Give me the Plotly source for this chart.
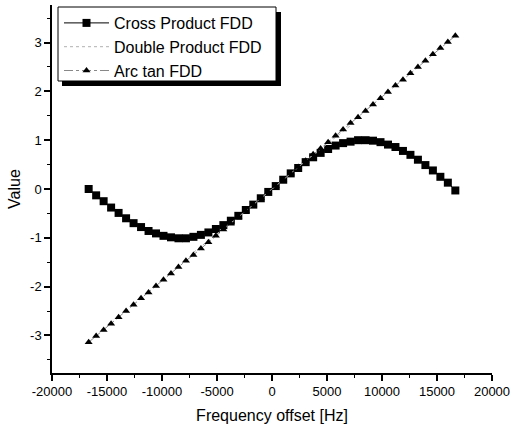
import plotly.graph_objects as go

freq = [-16667, -15986, -15306, -14626, -13946, -13265, -12585, -11905, -11224, -10544,
        -9864, -9184, -8503, -7823, -7143, -6463, -5782, -5102, -4422, -3741,
        -3061, -2381, -1701, -1020, -340, 340, 1020, 1701, 2381, 3061,
        3741, 4422, 5102, 5782, 6463, 7143, 7823, 8503, 9184, 9864,
        10544, 11224, 11905, 12585, 13265, 13946, 14626, 15306, 15986, 16667]

cross = [0.00, -0.13, -0.25, -0.38, -0.49, -0.60, -0.70, -0.78, -0.86, -0.91,
         -0.96, -0.99, -1.01, -1.01, -0.98, -0.94, -0.89, -0.82, -0.74, -0.65,
         -0.55, -0.43, -0.32, -0.19, -0.06, 0.06, 0.19, 0.32, 0.43, 0.55,
         0.65, 0.74, 0.82, 0.89, 0.94, 0.97, 1.00, 1.00, 0.99, 0.96,
         0.91, 0.86, 0.78, 0.70, 0.60, 0.49, 0.38, 0.25, 0.13, -0.03]

arctan = [-3.14, -3.01, -2.89, -2.76, -2.63, -2.50, -2.37, -2.24, -2.12, -1.99,
          -1.86, -1.73, -1.60, -1.47, -1.35, -1.22, -1.09, -0.96, -0.83, -0.71,
          -0.58, -0.45, -0.32, -0.19, -0.06, 0.06, 0.19, 0.32, 0.45, 0.58,
          0.71, 0.83, 0.96, 1.09, 1.22, 1.35, 1.47, 1.60, 1.73, 1.86,
          1.99, 2.12, 2.24, 2.37, 2.50, 2.63, 2.76, 2.89, 3.01, 3.14]

double_freq = [-7143, -6463, -5782, -5102, -4422, -3741, -3061, -2381, -1701, -1020,
               -340, 340, 1020, 1701, 2381, 3061, 3741, 4422, 5102, 5782, 6463, 7143]
double = [-1.30, -1.18, -1.06, -0.94, -0.82, -0.70, -0.57, -0.45, -0.32, -0.19,
          -0.06, 0.06, 0.19, 0.32, 0.45, 0.57, 0.70, 0.82, 0.94, 1.06, 1.18, 1.30]

x_ticks = [-20000, -15000, -10000, -5000, 0, 5000, 10000, 15000, 20000]
x_ticktext = ["-20000", "-15000", "-10000", "-5000", "0", "5000", "10000", "15000", "20000"]
y_ticks = [-3, -2, -1, 0, 1, 2, 3]
y_ticktext = ["-3", "-2", "-1", "0", "1", "2", "3"]

FONT = "Liberation Sans, Arial, sans-serif"

L, R, T, B = 52, 19, 5, 61
W, H = 511, 434
PW, PH = W - L - R, H - T - B


def px(x):
    return (x - L) / PW


def py(y):
    return (H - B - y) / PH


fig = go.Figure()
fig.add_trace(go.Scatter(
    x=freq, y=cross, name="Cross Product FDD", mode="lines+markers",
    line=dict(color="black", width=1),
    marker=dict(symbol="square", size=8, color="black")))
fig.add_trace(go.Scatter(
    x=double_freq, y=double, name="Double Product FDD", mode="lines",
    line=dict(color="#b0b0b0", width=1, dash="dot")))
fig.add_trace(go.Scatter(
    x=freq, y=arctan, name="Arc tan FDD", mode="lines+markers",
    line=dict(color="#888888", width=1, dash="dashdot"),
    marker=dict(symbol="triangle-up", size=7, color="black")))

axis_common = dict(
    showgrid=False, zeroline=False, showline=True, linecolor="black", linewidth=1.5,
    ticks="outside", ticklen=6, tickwidth=1.5, tickcolor="black",
    tickfont=dict(family=FONT, size=13, color="black"),
    mirror=False, automargin=False,
)

fig.update_layout(
    width=W, height=H,
    margin=dict(l=L, r=R, t=T, b=B),
    paper_bgcolor="white", plot_bgcolor="white",
    font=dict(family=FONT, color="black"),
    showlegend=True,
    legend=dict(
        x=px(59), y=py(6), xanchor="left", yanchor="top",
        bgcolor="rgba(0,0,0,0)", borderwidth=0,
        font=dict(family=FONT, size=16, color="black"),
        itemwidth=45, tracegroupgap=0,
    ),
    xaxis=dict(
        range=[-20000, 20000], tickvals=x_ticks, ticktext=x_ticktext,
        minor=dict(dtick=2500, ticks="outside", ticklen=3, tickwidth=1, tickcolor="black"),
        title=dict(text="Frequency offset [Hz]", font=dict(family=FONT, size=16), standoff=11),
        **axis_common),
    yaxis=dict(
        range=[-3.77, 3.77], tickvals=y_ticks, ticktext=y_ticktext,
        minor=dict(dtick=0.5, ticks="outside", ticklen=3, tickwidth=1, tickcolor="black"),
        title=dict(text="Value", font=dict(family=FONT, size=16), standoff=5),
        **axis_common),
)

# legend box with drop shadow
fig.add_shape(type="rect", xref="paper", yref="paper",
              x0=px(62), x1=px(281), y0=py(86), y1=py(12),
              fillcolor="black", line=dict(width=0), layer="above")
fig.add_shape(type="rect", xref="paper", yref="paper",
              x0=px(58), x1=px(276), y0=py(81), y1=py(7),
              fillcolor="white", line=dict(color="black", width=1), layer="above")

fig.write_html("out.html", config={"displayModeBar": False},
               post_script="document.body.style.margin='0';")
